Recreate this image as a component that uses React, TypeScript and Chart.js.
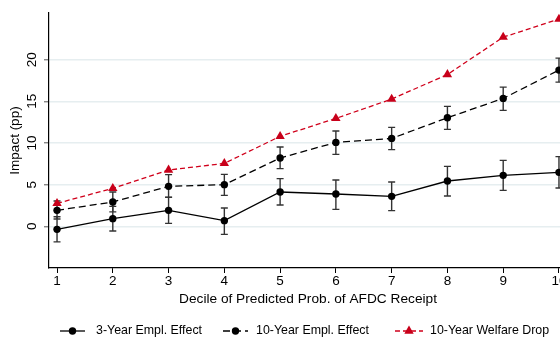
import React, { useEffect, useRef } from "react";
import { Chart, registerables } from "chart.js";

Chart.register(...registerables);

const deciles = [1, 2, 3, 4, 5, 6, 7, 8, 9, 10];
const xTicks = [1, 2, 3, 4, 5, 6, 7, 8, 9, 10];
const yTicks = [0, 5, 10, 15, 20];

const threeYear = [-0.36, 0.92, 1.92, 0.68, 4.12, 3.88, 3.6, 5.44, 6.12, 6.48];
const threeYearLo = [-1.87, -0.56, 0.36, -0.96, 2.56, 2.04, 1.88, 3.64, 4.32, 4.6];
const threeYearHi = [1.15, 2.4, 3.5, 2.2, 5.72, 5.56, 5.32, 7.19, 7.91, 8.36];

const tenYear = [1.92, 2.92, 4.8, 5.0, 8.2, 10.07, 10.55, 13.03, 15.35, 18.75];
const tenYearLo = [0.88, 1.73, 3.48, 3.72, 6.92, 8.63, 9.2, 11.63, 13.91, 17.31];
const tenYearHi = [3.04, 4.12, 6.2, 6.24, 9.52, 11.44, 11.87, 14.39, 16.71, 20.19];

const welfare = [2.76, 4.56, 6.76, 7.55, 10.8, 12.95, 15.27, 18.22, 22.7, 24.87];

const seriesLabels = ["3-Year Empl. Effect", "10-Year Empl. Effect", "10-Year Welfare Drop"];

const FONT = "'Liberation Sans', Arial, Helvetica, sans-serif";

const errorBars = [
  { lo: threeYearLo, hi: threeYearHi },
  { lo: tenYearLo, hi: tenYearHi },
];

const errorBarPlugin = {
  id: "errorBars",
  beforeDatasetsDraw(chart: any) {
    const { ctx, scales } = chart;
    const xs = scales.x;
    const ys = scales.y;
    ctx.save();
    ctx.strokeStyle = "#333333";
    ctx.lineWidth = 1.4;
    ctx.setLineDash([]);
    errorBars.forEach((eb) => {
      deciles.forEach((d, i) => {
        const px = xs.getPixelForValue(d);
        const y1 = ys.getPixelForValue(eb.lo[i]);
        const y2 = ys.getPixelForValue(eb.hi[i]);
        ctx.beginPath();
        ctx.moveTo(px, y1);
        ctx.lineTo(px, y2);
        ctx.moveTo(px - 3.5, y1);
        ctx.lineTo(px + 3.5, y1);
        ctx.moveTo(px - 3.5, y2);
        ctx.lineTo(px + 3.5, y2);
        ctx.stroke();
      });
    });
    ctx.restore();
  },
};

const legendItems = [
  { x0: 60, x1: 85, tx: 96 },
  { x0: 223, x1: 248, tx: 256 },
  { x0: 395, x1: 423, tx: 430 },
];

const legendPlugin = {
  id: "customLegend",
  afterDraw(chart: any) {
    const { ctx } = chart;
    const y = 331;
    ctx.save();
    chart.data.datasets.forEach((ds: any, i: number) => {
      const it = legendItems[i];
      ctx.strokeStyle = ds.borderColor;
      ctx.lineWidth = ds.borderWidth;
      ctx.setLineDash(ds.borderDash || []);
      ctx.beginPath();
      ctx.moveTo(it.x0, y);
      ctx.lineTo(it.x1, y);
      ctx.stroke();
      ctx.setLineDash([]);
      ctx.fillStyle = ds.pointBackgroundColor;
      const cx = (it.x0 + it.x1) / 2;
      if (ds.pointStyle === "triangle") {
        const r = ds.pointRadius;
        ctx.beginPath();
        ctx.moveTo(cx, y - r);
        ctx.lineTo(cx + r * 0.866, y + r * 0.5);
        ctx.lineTo(cx - r * 0.866, y + r * 0.5);
        ctx.closePath();
        ctx.fill();
      } else {
        ctx.beginPath();
        ctx.arc(cx, y, ds.pointRadius, 0, Math.PI * 2);
        ctx.fill();
      }
      ctx.fillStyle = "#000";
      ctx.font = `12.4px ${FONT}`;
      ctx.textAlign = "left";
      ctx.textBaseline = "middle";
      ctx.fillText(ds.label, it.tx, y);
    });
    ctx.restore();
  },
};

export default function App() {
  const ref = useRef<HTMLCanvasElement>(null);
  useEffect(() => {
    if (!ref.current) return;
    const chart = new Chart(ref.current, {
      type: "line",
      data: {
        datasets: [
          {
            label: seriesLabels[0],
            data: deciles.map((d, i) => ({ x: d, y: threeYear[i] })),
            borderColor: "#000000",
            borderWidth: 1.3,
            pointBackgroundColor: "#000000",
            pointBorderWidth: 0,
            pointRadius: 3.7,
            pointStyle: "circle",
            tension: 0,
          },
          {
            label: seriesLabels[1],
            data: deciles.map((d, i) => ({ x: d, y: tenYear[i] })),
            borderColor: "#000000",
            borderWidth: 1.3,
            borderDash: [7, 4],
            pointBackgroundColor: "#000000",
            pointBorderWidth: 0,
            pointRadius: 3.7,
            pointStyle: "circle",
            tension: 0,
          },
          {
            label: seriesLabels[2],
            data: deciles.map((d, i) => ({ x: d, y: welfare[i] })),
            borderColor: "#d0001b",
            borderWidth: 1.3,
            borderDash: [5, 3],
            pointBackgroundColor: "#c8001a",
            pointBorderColor: "#c8001a",
            pointBorderWidth: 0,
            pointRadius: 5.4,
            pointStyle: "triangle",
            tension: 0,
          },
        ],
      },
      options: {
        animation: false,
        responsive: false,
        layout: { padding: { top: 13, right: 33, left: 0, bottom: 0 } },
        plugins: { legend: { display: false }, tooltip: { enabled: false } },
        scales: {
          x: {
            type: "linear",
            min: 0.856,
            max: 10.144,
            afterBuildTicks: (s: any) => {
              s.ticks = xTicks.map((v) => ({ value: v }));
            },
            afterFit: (s: any) => {
              s.height = 70;
            },
            grid: {
              drawOnChartArea: false,
              drawTicks: true,
              tickLength: 5,
              tickColor: "#000",
              tickWidth: 1,
            },
            border: { display: true, color: "#000", width: 1.2 },
            ticks: {
              color: "#000",
              padding: 0,
              font: { family: FONT, size: 13.5 },
              maxRotation: 0,
              minRotation: 0,
              callback: (v: any) => String(v),
            },
            title: {
              display: true,
              text: "Decile of Predicted Prob. of AFDC Receipt",
              color: "#000",
              font: { family: FONT, size: 13.7 },
              padding: { top: 0, bottom: 31 },
            },
          },
          y: {
            type: "linear",
            min: -5,
            max: 25.6,
            afterBuildTicks: (s: any) => {
              s.ticks = yTicks.map((v) => ({ value: v }));
            },
            afterFit: (s: any) => {
              s.width = 49;
            },
            grid: {
              color: "#e6eef0",
              lineWidth: 1.6,
              drawTicks: true,
              tickLength: 5,
              tickColor: "#555",
              tickWidth: 1,
            },
            border: { display: true, color: "#000", width: 1.2 },
            ticks: {
              color: "#000",
              padding: 4,
              crossAlign: "center",
              minRotation: 90,
              maxRotation: 90,
              font: { family: FONT, size: 13.5 },
              callback: (v: any) => String(v),
            },
            title: {
              display: true,
              text: "Impact (pp)",
              color: "#000",
              font: { family: FONT, size: 13.5 },
              padding: { top: 7, bottom: 0 },
            },
          },
        },
      },
      plugins: [errorBarPlugin, legendPlugin],
    } as any);
    return () => chart.destroy();
  }, []);

  return (
    <div style={{ position: "absolute", left: 0, top: 0, width: 560, height: 338, overflow: "hidden", background: "#fff" }}>
      <canvas ref={ref} width={600} height={338} style={{ display: "block" }} />
    </div>
  );
}
